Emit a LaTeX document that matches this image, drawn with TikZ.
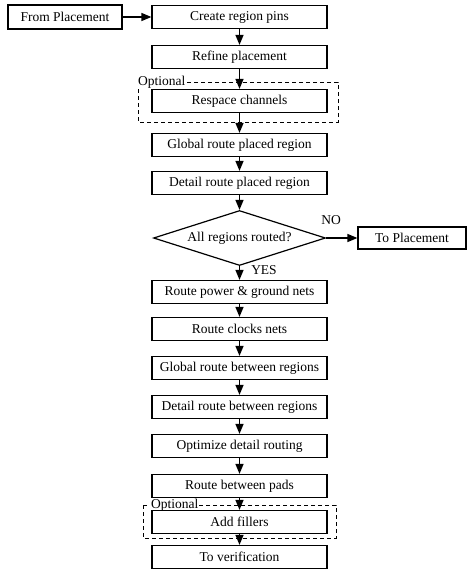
\documentclass[tikz,border=0pt]{standalone}
\usepackage{fontspec}
\setmainfont{Liberation Serif}
\usetikzlibrary{shapes.geometric,arrows.meta}
\begin{document}
\begin{tikzpicture}[x=1pt,y=-1pt,
  box/.style={draw, line width=1.2pt, minimum width=175pt, minimum height=23pt, inner sep=0pt, font=\fontsize{13.5}{15}\selectfont},
  arr/.style={-{Triangle[length=10pt,width=8pt]}, line width=1.3pt},
  opt/.style={draw, line width=0.9pt, dash pattern=on 4pt off 3pt},
  lbl/.style={font=\fontsize{13.5}{15}\selectfont, inner sep=0pt}]
\useasboundingbox (0,0) rectangle (471,571);
% optional dashed frames
\draw[opt] (138,82) rectangle (338,122);
\node[lbl, fill=white, anchor=west, inner xsep=1pt] (opt1) at (137,82) {Optional};
\draw[opt] (143,505) rectangle (336,538);
\node[lbl, fill=white, anchor=west, inner xsep=1pt] (opt2) at (150,505) {Optional};
% boxes
\node[box, minimum width=114pt, minimum height=24pt] (from) at (65,17) {From Placement};
\node[box] (create) at (239.5,17) {Create region pins};
\node[box] (refine) at (239.5,57) {Refine placement};
\node[box] (respace) at (239.5,101) {Respace channels};
\node[box] (gplaced) at (239.5,145) {Global route placed region};
\node[box] (dplaced) at (239.5,183) {Detail route placed region};
\node[draw, diamond, aspect=3.1, minimum width=172pt, minimum height=55pt, inner sep=0pt, line width=1.2pt, font=\fontsize{13.5}{15}\selectfont] (dia) at (239.5,238) {All regions routed?};
\node[box, minimum width=108pt, minimum height=22pt] (toplace) at (412,238) {To Placement};
\node[lbl] (no) at (331,220) {NO};
\node[lbl] (yes) at (264,270) {YES};
\node[box] (power) at (239.5,292) {Route power \& ground nets};
\node[box] (clocks) at (239.5,329) {Route clocks nets};
\node[box] (gbetween) at (239.5,368) {Global route between regions};
\node[box] (dbetween) at (239.5,407) {Detail route between regions};
\node[box] (optim) at (239.5,446) {Optimize detail routing};
\node[box] (pads) at (239.5,486) {Route between pads};
\node[box] (fillers) at (239.5,522) {Add fillers};
\node[box] (verif) at (239.5,557) {To verification};
% connectors
\draw[arr] (from) -- (create);
\draw[arr] (create) -- (refine);
\draw[arr] (refine) -- (respace);
\draw[arr] (respace) -- (gplaced);
\draw[arr] (gplaced) -- (dplaced);
\draw[arr] (dplaced) -- (dia);
\draw[arr] (dia.east) -- (toplace);
\draw[arr] (dia) -- (power);
\draw[arr] (power) -- (clocks);
\draw[arr] (clocks) -- (gbetween);
\draw[arr] (gbetween) -- (dbetween);
\draw[arr] (dbetween) -- (optim);
\draw[arr] (optim) -- (pads);
\draw[arr] (pads) -- (fillers);
\draw[arr] (fillers) -- (verif);
\end{tikzpicture}
\end{document}
